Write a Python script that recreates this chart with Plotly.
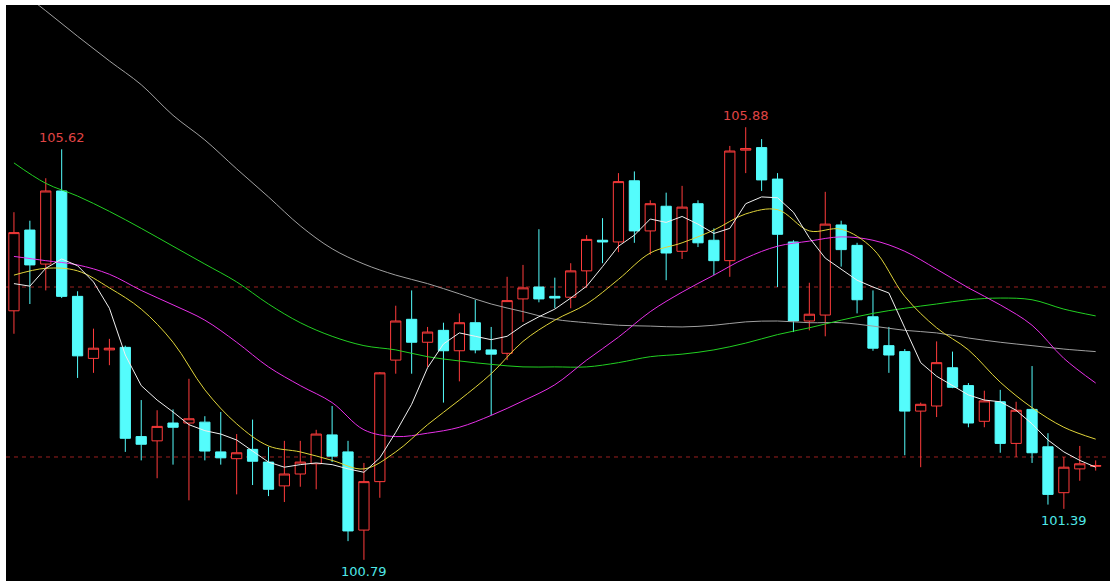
import plotly.graph_objects as go

# ---- data ----
idx = list(range(69))
opens = [103.72,104.67,104.27,105.13,103.89,103.16,103.26,103.29,102.24,102.19,
         102.40,102.40,102.41,102.06,101.98,102.09,101.94,101.66,101.80,101.92,
         102.26,102.06,101.14,101.71,103.14,103.62,103.35,103.49,103.25,103.58,
         103.26,103.22,103.86,104.00,103.89,103.88,104.19,104.55,104.53,105.25,
         104.66,104.95,104.42,104.98,104.55,104.31,105.61,105.64,105.27,104.53,
         103.60,103.67,104.73,104.49,103.65,103.31,103.24,102.54,102.60,103.05,
         102.84,102.42,102.65,102.16,102.56,102.12,101.58,101.86,101.89]
highs = [104.88,104.78,105.28,105.62,103.95,103.51,103.39,103.31,102.67,102.55,
         102.56,102.92,102.48,102.53,102.27,102.44,102.12,102.19,102.19,102.32,
         102.60,102.19,101.93,103.00,103.78,103.96,103.53,103.58,103.69,103.85,
         103.53,104.12,104.26,104.68,104.11,104.28,104.61,104.81,105.34,105.36,
         105.02,105.11,105.19,105.02,104.69,105.66,105.88,105.74,105.34,104.55,
         104.05,105.12,104.78,104.52,103.96,103.53,103.27,102.64,103.36,103.24,
         102.87,102.78,102.79,102.65,103.07,102.28,102.00,102.13,101.96]
lows = [103.45,103.80,103.96,103.87,102.93,102.99,103.08,102.06,101.96,101.75,
        101.91,101.49,101.96,101.91,101.56,101.67,101.54,101.47,101.65,101.62,
        101.94,101.01,100.79,101.52,102.98,102.98,103.06,102.64,102.89,103.22,
        102.49,103.14,103.59,103.82,103.75,103.75,103.99,104.28,104.41,104.52,
        104.38,104.08,104.33,104.47,104.14,104.12,105.34,105.13,104.00,103.47,
        103.49,103.42,104.24,103.69,103.25,102.99,102.02,101.88,102.47,102.81,
        102.35,102.35,102.05,102.00,101.93,101.44,101.39,101.72,101.84]
closes = [104.64,104.26,105.13,103.89,103.19,103.28,103.28,102.22,102.15,102.36,
          102.35,102.45,102.07,101.99,102.05,101.95,101.62,101.80,101.94,102.27,
          102.01,101.13,101.71,102.99,103.60,103.35,103.47,103.25,103.58,103.26,
          103.21,103.84,103.99,103.86,103.87,104.19,104.56,104.53,105.24,104.66,
          104.98,104.40,104.94,104.52,104.31,105.60,105.63,105.26,104.62,103.60,
          103.68,104.74,104.44,103.85,103.28,103.20,102.54,102.62,103.11,102.82,
          102.40,102.66,102.16,102.55,102.05,101.56,101.88,101.92,101.90]

ma5 = [104.04,104.01,104.22,104.33,104.25,104.06,103.75,103.20,102.84,102.67,
       102.53,102.38,102.31,102.27,102.20,102.07,101.94,101.88,101.91,101.93,
       101.91,101.86,101.82,101.99,102.29,102.62,103.05,103.33,103.46,103.42,
       103.38,103.42,103.55,103.65,103.74,103.87,104.01,104.24,104.48,104.61,
       104.80,104.76,104.83,104.74,104.63,104.69,104.98,105.06,105.05,104.88,
       104.58,104.34,104.21,104.08,104.00,103.93,103.52,103.11,102.95,102.84,
       102.73,102.67,102.65,102.55,102.39,102.20,102.06,101.96,101.88]

idx_even = list(range(0, 69, 2))
ma10 = [104.14,104.22,104.19,103.99,103.74,103.35,102.79,102.39,102.13,102.06,
        101.96,101.86,102.06,102.38,102.67,102.98,103.36,103.61,103.80,104.09,
        104.40,104.52,104.67,104.86,104.91,104.66,104.68,104.45,103.89,103.52,
        103.26,102.88,102.58,102.35,102.21]
ma20 = [104.36,104.31,104.26,104.15,103.96,103.79,103.61,103.35,103.06,102.84,
        102.64,102.32,102.24,102.28,102.35,102.49,102.66,102.85,103.14,103.41,
        103.71,103.94,104.14,104.34,104.48,104.54,104.59,104.55,104.42,104.21,
        103.99,103.79,103.55,103.16,102.87]
ma30 = [105.46,105.22,105.07,104.89,104.69,104.48,104.27,104.06,103.80,103.58,
        103.42,103.31,103.26,103.18,103.13,103.09,103.06,103.06,103.06,103.11,
        103.18,103.21,103.26,103.34,103.44,103.52,103.61,103.69,103.75,103.80,
        103.85,103.87,103.85,103.74,103.66]
ma60 = [107.54,107.25,106.95,106.66,106.38,106.02,105.73,105.39,105.06,104.72,
        104.45,104.27,104.14,104.04,103.92,103.80,103.71,103.62,103.58,103.55,
        103.54,103.53,103.55,103.59,103.60,103.58,103.58,103.54,103.49,103.46,
        103.40,103.35,103.31,103.27,103.24]

ref_levels = [104.0, 102.0]
marks = [  # (index, value, text, colour, position)
    (3, 105.62, "105.62", "#e04545", "top"),
    (46, 105.88, "105.88", "#e04545", "top"),
    (22, 100.79, "100.79", "#4fe8e8", "bottom"),
    (66, 101.39, "101.39", "#4fe8e8", "bottom"),
]

RED = "#ff3c3c"
CYAN = "#54fcfc"

fig = go.Figure()

for lv in ref_levels:
    fig.add_hline(y=lv, line=dict(color="#9a2020", width=1, dash="4px,4px"), layer="below")

fig.add_trace(go.Candlestick(
    x=idx, open=opens, high=highs, low=lows, close=closes,
    increasing=dict(line=dict(color=RED, width=1), fillcolor="rgba(0,0,0,1)"),
    decreasing=dict(line=dict(color=CYAN, width=1), fillcolor=CYAN),
    whiskerwidth=0, hoverinfo="skip", showlegend=False,
))

line_specs = [
    (idx_even, ma60, "#a0a0a0", "spline"),
    (idx_even, ma30, "#22d022", "spline"),
    (idx_even, ma20, "#e830e8", "spline"),
    (idx_even, ma10, "#e0d43a", "spline"),
    (idx, ma5, "#f0f0f0", "linear"),
]
for xs, ys, col, shp in line_specs:
    fig.add_trace(go.Scatter(x=xs, y=ys, mode="lines",
                             line=dict(color=col, width=1, shape=shp),
                             hoverinfo="skip", showlegend=False))

for i, v, t, c, pos in marks:
    fig.add_annotation(x=i, y=v, text=t, showarrow=False,
                       font=dict(family="DejaVu Sans", size=13, color=c),
                       yanchor="bottom" if pos == "top" else "top",
                       yshift=2 if pos == "top" else -2)

fig.update_layout(
    width=1110, height=581,
    margin=dict(l=6, r=0, t=5, b=0),
    paper_bgcolor="white", plot_bgcolor="black",
    boxgap=0.08, showlegend=False,
    xaxis=dict(range=[-0.5, 68.9], showgrid=False, zeroline=False,
               showticklabels=False, ticks="", rangeslider=dict(visible=False),
               showline=True, linecolor="#a02828", linewidth=4, fixedrange=True),
    yaxis=dict(range=[100.541, 107.318], showgrid=False, zeroline=False,
               showticklabels=False, ticks="", fixedrange=True),
)

fig.write_html("out.html", config={"displayModeBar": False, "staticPlot": True},
               post_script="document.body.style.margin='0px';document.body.style.overflow='hidden';")
